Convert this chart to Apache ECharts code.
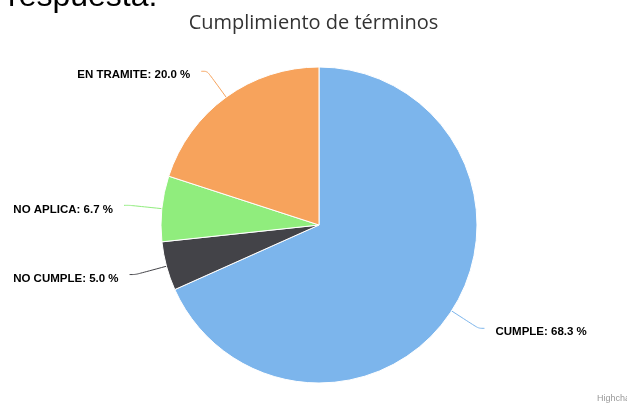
<!DOCTYPE html>
<html>
<head>
<meta charset="utf-8">
<script src="https://cdn.jsdelivr.net/npm/echarts@6/dist/echarts.min.js"></script>
<style>
  html, body { margin: 0; padding: 0; background: #fff; }
  #chart { width: 627px; height: 407px; }
</style>
</head>
<body>
<div id="chart"></div>
<script>
// datos
const categorias = ['CUMPLE', 'NO CUMPLE', 'NO APLICA', 'EN TRAMITE']
const porcentajes = [68.3, 5.0, 6.7, 20.0]
const colores = ['#7cb5ec', '#434348', '#90ed7d', '#f7a35c']

const chart = echarts.init(document.getElementById('chart'))

const options = {
    animation: false,
    backgroundColor: '#fff',
    title: {
        text: 'Cumplimiento de términos',
        left: 'center',
        top: 8,
        textStyle: {
            color: '#333333',
            fontSize: 20,
            fontWeight: 'normal',
            fontFamily: 'Open Sans'
        }
    },
    graphic: [
        {
            // texto del documento cortado arriba
            type: 'text',
            left: 8,
            top: -19,
            style: {
                text: 'respuesta.',
                fill: '#000',
                font: '32px "Liberation Sans"'
            }
        },
        {
            type: 'text',
            left: 597,
            top: 394,
            style: {
                text: 'Highcharts.com',
                fill: '#999',
                font: '9px "Liberation Sans"'
            }
        }
    ],
    series: [{
        type: 'pie',
        center: [319, 225],
        radius: 158,
        startAngle: 90,
        clockwise: true,
        data: categorias.map((c, i) => ({
            name: c,
            value: porcentajes[i],
            itemStyle: { color: colores[i] },
            labelLine: { lineStyle: { color: colores[i] } }
        })),
        itemStyle: {
            borderColor: '#fff',
            borderWidth: 1
        },
        label: {
            formatter: p => p.name + ': ' + p.value.toFixed(1) + ' %',
            color: '#000',
            fontSize: 11.5,
            fontWeight: 'bold',
            fontFamily: 'Liberation Sans',
            distanceToLabelLine: 11
        },
        labelLayout: { dy: 4 },
        labelLine: {
            length: 32,
            length2: 6,
            smooth: 0.3,
            lineStyle: { width: 1 }
        },
        emphasis: { disabled: true }
    }]
}

chart.setOption(options)
</script>
</body>
</html>
